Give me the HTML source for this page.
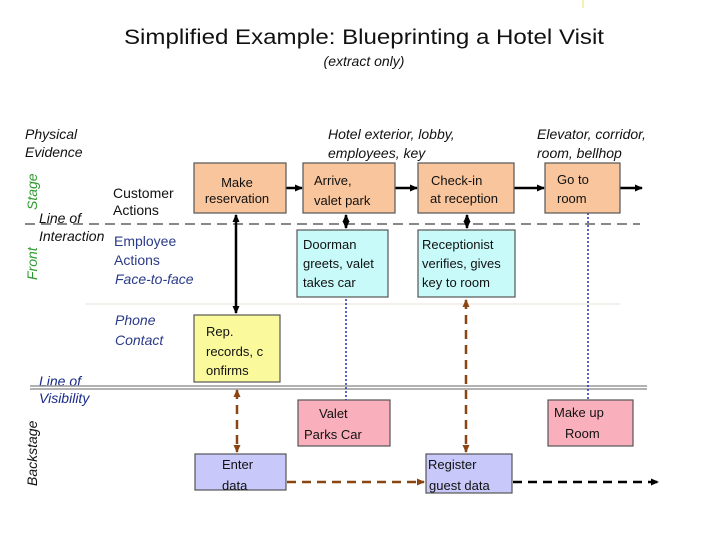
<!DOCTYPE html>
<html><head><meta charset="utf-8"><style>
html,body{margin:0;padding:0;background:#fff}
svg{display:block}
.b{font-family:"Liberation Sans",sans-serif;font-size:13px;fill:#111}
.l{font-family:"Liberation Sans",sans-serif;font-size:14px}
.i{font-style:italic}
</style></head><body>
<svg width="728" height="546" viewBox="0 0 728 546" xmlns="http://www.w3.org/2000/svg">
<defs>
<marker id="ab" markerWidth="8" markerHeight="8" refX="7" refY="4" orient="auto" markerUnits="userSpaceOnUse"><path d="M0,0.5 L8,4 L0,7.5z" fill="#000"/></marker>
<marker id="ar" markerWidth="8" markerHeight="8" refX="7" refY="4" orient="auto" markerUnits="userSpaceOnUse"><path d="M0,0.5 L8,4 L0,7.5z" fill="#8b4513"/></marker>
<marker id="abs" markerWidth="8" markerHeight="8" refX="1" refY="4" orient="auto" markerUnits="userSpaceOnUse"><path d="M8,0.5 L0,4 L8,7.5z" fill="#000"/></marker>
<marker id="ars" markerWidth="8" markerHeight="8" refX="1" refY="4" orient="auto" markerUnits="userSpaceOnUse"><path d="M8,0.5 L0,4 L8,7.5z" fill="#8b4513"/></marker>
</defs>
<line x1="583" y1="0" x2="583" y2="8" stroke="#f0e060" stroke-width="1"/>
<text x="364" y="44" text-anchor="middle" font-family="Liberation Sans,sans-serif" font-size="21" fill="#111" textLength="480" lengthAdjust="spacingAndGlyphs">Simplified Example: Blueprinting a Hotel Visit</text>
<text x="364" y="66" text-anchor="middle" font-family="Liberation Sans,sans-serif" font-size="14" font-style="italic" fill="#111">(extract only)</text>

<text class="l i" x="25" y="139" font-size="13" fill="#111">Physical</text>
<text class="l i" x="25" y="157" font-size="13" fill="#111">Evidence</text>
<text class="l i" x="328" y="139" fill="#111">Hotel exterior, lobby,</text>
<text class="l i" x="328" y="158" fill="#111">employees, key</text>
<text class="l i" x="537" y="139" fill="#111">Elevator, corridor,</text>
<text class="l i" x="537" y="158" fill="#111">room, bellhop</text>

<text class="l i" transform="translate(37,210) rotate(-90)" font-size="13" fill="#2e9a2e">Stage</text>
<text class="l i" transform="translate(37,280) rotate(-90)" font-size="13" fill="#2e9a2e">Front</text>
<text class="l i" transform="translate(37,486) rotate(-90)" font-size="13" fill="#111">Backstage</text>

<text class="l" x="113" y="198" font-size="15" fill="#111">Customer</text>
<text class="l" x="113" y="215" font-size="15" fill="#111">Actions</text>
<text class="l i" x="39" y="223" font-size="12" fill="#111">Line of</text>
<text class="l i" x="39" y="241" font-size="12" fill="#111">Interaction</text>
<text class="l" x="114" y="246" font-size="15" fill="#2a3a8a">Employee</text>
<text class="l" x="114" y="265" font-size="15" fill="#2a3a8a">Actions</text>
<text class="l i" x="115" y="284" font-size="15" fill="#2a3a8a">Face-to-face</text>
<text class="l i" x="115" y="325" font-size="15" fill="#2a3a8a">Phone</text>
<text class="l i" x="115" y="345" font-size="15" fill="#2a3a8a">Contact</text>
<text class="l i" x="39" y="386" font-size="12" fill="#1a2a8a">Line of</text>
<text class="l i" x="39" y="403" font-size="12" fill="#1a2a8a">Visibility</text>

<line x1="25" y1="224" x2="640" y2="224" stroke="#888" stroke-width="2" stroke-dasharray="10,6"/>
<line x1="85" y1="304" x2="620" y2="304" stroke="#e8e0d8" stroke-width="1"/>
<line x1="30" y1="386" x2="647" y2="386" stroke="#999" stroke-width="1.5"/>
<line x1="30" y1="389" x2="647" y2="389" stroke="#999" stroke-width="1.5"/>

<line x1="286" y1="188" x2="302" y2="188" stroke="#000" stroke-width="2.5" marker-end="url(#ab)"/>
<line x1="395" y1="188" x2="417" y2="188" stroke="#000" stroke-width="2.5" marker-end="url(#ab)"/>
<line x1="514" y1="188" x2="544" y2="188" stroke="#000" stroke-width="2.5" marker-end="url(#ab)"/>
<line x1="620" y1="188" x2="642" y2="188" stroke="#000" stroke-width="2.5" marker-end="url(#ab)"/>
<line x1="236" y1="215" x2="236" y2="313" stroke="#000" stroke-width="2.5" marker-start="url(#abs)" marker-end="url(#ab)"/>
<line x1="346" y1="215" x2="346" y2="228" stroke="#000" stroke-width="2.5" marker-start="url(#abs)" marker-end="url(#ab)"/>
<line x1="467" y1="215" x2="467" y2="228" stroke="#000" stroke-width="2.5" marker-start="url(#abs)" marker-end="url(#ab)"/>
<line x1="346" y1="299" x2="346" y2="400" stroke="#2233aa" stroke-width="1.5" stroke-dasharray="2,2"/>
<line x1="588" y1="213" x2="588" y2="400" stroke="#2233aa" stroke-width="1.5" stroke-dasharray="2,2"/>
<line x1="237" y1="390" x2="237" y2="452" stroke="#8b4513" stroke-width="2.5" stroke-dasharray="9,6" marker-start="url(#ars)" marker-end="url(#ar)"/>
<line x1="466" y1="300" x2="466" y2="452" stroke="#8b4513" stroke-width="2.5" stroke-dasharray="9,6" marker-start="url(#ars)" marker-end="url(#ar)"/>
<line x1="287" y1="482" x2="424" y2="482" stroke="#8b4513" stroke-width="2.5" stroke-dasharray="9,6" marker-end="url(#ar)"/>
<line x1="513" y1="482" x2="658" y2="482" stroke="#000" stroke-width="2.5" stroke-dasharray="9,6" marker-end="url(#ab)"/>

<g stroke="#555" stroke-width="1.2">
<rect x="194" y="163" width="92" height="50" fill="#f9c59c"/>
<rect x="303" y="163" width="92" height="50" fill="#f9c59c"/>
<rect x="418" y="163" width="96" height="50" fill="#f9c59c"/>
<rect x="545" y="163" width="75" height="50" fill="#f9c59c"/>
<rect x="297" y="230" width="91" height="67" fill="#c8fafa"/>
<rect x="418" y="230" width="97" height="67" fill="#c8fafa"/>
<rect x="194" y="315" width="86" height="67" fill="#fafa9c"/>
<rect x="298" y="400" width="92" height="46" fill="#f9b0bc"/>
<rect x="548" y="400" width="85" height="46" fill="#f9b0bc"/>
<rect x="195" y="454" width="91" height="36" fill="#c8c8fa"/>
<rect x="426" y="454" width="86" height="39" fill="#c8c8fa"/>
</g>
<text class="b" x="237" y="187" text-anchor="middle">Make</text>
<text class="b" x="237" y="203" text-anchor="middle">reservation</text>
<text class="b" x="314" y="185">Arrive,</text>
<text class="b" x="314" y="205">valet park</text>
<text class="b" x="431" y="185">Check-in</text>
<text class="b" x="430" y="203">at reception</text>
<text class="b" x="557" y="184">Go to</text>
<text class="b" x="557" y="203">room</text>
<text class="b" x="303" y="249">Doorman</text>
<text class="b" x="303" y="268">greets, valet</text>
<text class="b" x="303" y="287">takes car</text>
<text class="b" x="422" y="249">Receptionist</text>
<text class="b" x="422" y="268">verifies, gives</text>
<text class="b" x="422" y="287">key to room</text>
<text class="b" x="206" y="336">Rep.</text>
<text class="b" x="206" y="356">records, c</text>
<text class="b" x="206" y="375">onfirms</text>
<text class="b" x="319" y="418">Valet</text>
<text class="b" x="304" y="439">Parks Car</text>
<text class="b" x="554" y="417">Make up</text>
<text class="b" x="565" y="438">Room</text>
<text class="b" x="222" y="469">Enter</text>
<text class="b" x="222" y="490">data</text>
<text class="b" x="428" y="469">Register</text>
<text class="b" x="429" y="490">guest data</text>
</svg>
</body></html>
